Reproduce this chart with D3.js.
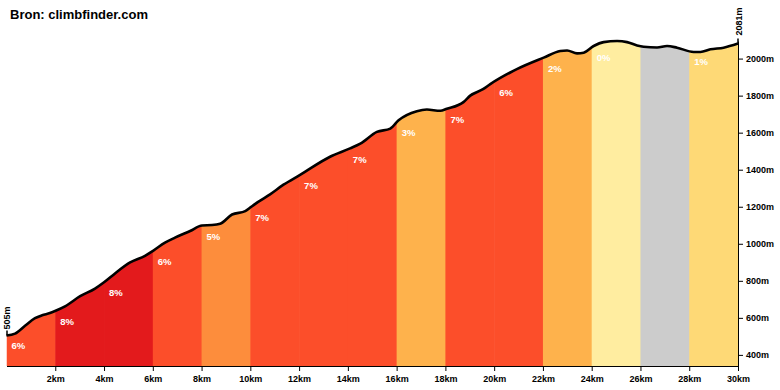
<!DOCTYPE html>
<html>
<head>
<meta charset="utf-8">
<script src="https://cdn.jsdelivr.net/npm/d3@7"></script>
<style>
  body { margin: 0; background: #fff; }
  svg { display: block; font-family: "Liberation Sans", Arial, sans-serif; font-weight: bold; }
  .axis text { font-size: 9px; font-weight: bold; fill: #000; }
  .axis path, .axis line { stroke: #000; stroke-width: 1; }
  .grade { fill: #fff; font-size: 9.5px; }
  .title { font-size: 13px; }
  .endpt { font-size: 9px; }
</style>
</head>
<body>
<script>
// profile
var distKm = [0, 0.35, 0.76, 1.17, 1.46, 1.78, 1.99, 2.4, 3.02, 3.63, 4.0, 4.45, 5.07, 5.68, 6.01,
              6.5, 6.91, 7.53, 8.02, 8.43, 8.76, 9.25, 9.79, 10.03, 10.32, 10.81, 11.36, 12.04,
              13.27, 14.09, 14.51, 15.19, 15.74, 16.08, 16.83, 17.24, 17.79, 18.06, 18.74, 19.02,
              19.56, 19.84, 20.66, 20.93, 22.03, 22.71, 22.99, 23.4, 23.67, 24.08, 24.49, 25.04,
              25.45, 25.86, 26.13, 26.68, 27.09, 27.5, 28.18, 28.46, 28.87, 29.41, 30]
var elevM = [505, 515, 557, 598, 614, 626, 637, 662, 717, 758, 792, 840, 899, 935, 962,
             1006, 1033, 1069, 1099, 1101, 1108, 1158, 1176, 1199, 1226, 1267, 1319, 1372,
             1470, 1515, 1541, 1604, 1622, 1667, 1716, 1725, 1718, 1729, 1765, 1800,
             1836, 1862, 1925, 1943, 2005, 2041, 2044, 2028, 2032, 2068, 2089, 2095,
             2089, 2071, 2064, 2060, 2068, 2059, 2036, 2036, 2050, 2059, 2081]

// 2km segments and their gradient
var segStart = [0, 2, 4, 6, 8, 10, 12, 14, 16, 18, 20, 22, 24, 26, 28]
var segEnd   = [2, 4, 6, 8, 10, 12, 14, 16, 18, 20, 22, 24, 26, 28, 30]
var segGrade = [6, 8, 8, 6, 5, 7, 7, 7, 3, 7, 6, 2, 0, -1, 1]

var kmTicks = [2, 4, 6, 8, 10, 12, 14, 16, 18, 20, 22, 24, 26, 28, 30]
var mTicks = [400, 600, 800, 1000, 1200, 1400, 1600, 1800, 2000]

var profile = distKm.map(function(d, i){ return {km: d, m: elevM[i]} })

var W = 780, H = 390
var margin = {left: 6.5, right: 42, top: 41, bottom: 24}
var baseY = H - margin.bottom   // 366

var x = d3.scaleLinear().domain([0, 30]).range([margin.left, W - margin.right])
var y = d3.scaleLinear().domain([340, d3.max(elevM)]).range([baseY, margin.top])

var color = d3.scaleThreshold()
    .domain([0, 1, 2, 4, 6, 8])
    .range(["#cccccc", "#ffeda0", "#fed976", "#feb24c", "#fd8d3c", "#fc4e2a", "#e31a1c"])

var svg = d3.select("body").append("svg").attr("width", W).attr("height", H)

var area = d3.area()
    .x(function(d){ return x(d.km) })
    .y0(baseY)
    .y1(function(d){ return y(d.m) })
    .curve(d3.curveMonotoneX)
var line = d3.line()
    .x(function(d){ return x(d.km) })
    .y(function(d){ return y(d.m) })
    .curve(d3.curveMonotoneX)

svg.append("clipPath").attr("id", "profile-clip")
    .append("path").attr("d", area(profile))

//SEGMENTS (slight overlap so no seams show)
svg.append("g").attr("clip-path", "url(#profile-clip)")
    .selectAll("rect")
    .data(segStart)
    .enter().append("rect")
    .attr("x", function(d){ return x(d) })
    .attr("width", function(d, i){ return x(segEnd[i]) - x(d) + (i < segStart.length - 1 ? 0.6 : 0) })
    .attr("y", margin.top - 10)
    .attr("height", baseY - margin.top + 10)
    .attr("fill", function(d, i){ return color(segGrade[i]) })

//PROFILE LINE
svg.append("path")
    .attr("d", line(profile))
    .attr("fill", "none")
    .attr("stroke", "#000")
    .attr("stroke-width", 2.6)
    .attr("stroke-linejoin", "round")

//GRADE LABELS
var bis = d3.bisector(function(d){ return d.km }).left
function elevAt(km) {
    var i = bis(profile, km)
    if (i <= 0) return profile[0].m
    if (i >= profile.length) return profile[profile.length - 1].m
    var a = profile[i - 1], b = profile[i]
    return a.m + (b.m - a.m) * (km - a.km) / (b.km - a.km)
}
svg.append("g").selectAll("text")
    .data(segStart)
    .enter().append("text")
    .attr("class", "grade")
    .attr("x", function(d){ return x(d) + 5 })
    .attr("y", function(d){ return y(elevAt(d)) + 14 })
    .text(function(d, i){ return segGrade[i] >= 0 ? segGrade[i] + "%" : "" })

//AXES
svg.append("g").attr("class", "axis")
    .attr("transform", "translate(0," + baseY + ")")
    .call(d3.axisBottom(x).tickValues(kmTicks).tickSize(5).tickSizeOuter(0).tickPadding(5)
        .tickFormat(function(d){ return d + "km" }))

var yAx = svg.append("g").attr("class", "axis")
    .attr("transform", "translate(" + x(30) + ",0)")
    .call(d3.axisRight(y).tickValues(mTicks).tickSize(5).tickSizeOuter(0).tickPadding(3)
        .tickFormat(function(d){ return d + "m" }))
yAx.selectAll("text").attr("text-anchor", "start")

//START / END HEIGHT
var first = profile[0], last = profile[profile.length - 1]
svg.append("line")
    .attr("x1", x(first.km) + 0.5).attr("x2", x(first.km) + 0.5)
    .attr("y1", y(first.m)).attr("y2", y(first.m) - 5)
    .attr("stroke", "#000").attr("stroke-width", 1.5)
svg.append("text").attr("class", "endpt")
    .attr("transform", "translate(" + (x(first.km) + 3.5) + "," + (y(first.m) - 6) + ") rotate(-90)")
    .text(first.m + "m")
svg.append("line")
    .attr("x1", x(last.km)).attr("x2", x(last.km))
    .attr("y1", y(last.m)).attr("y2", y(last.m) - 5)
    .attr("stroke", "#000").attr("stroke-width", 1.5)
svg.append("text").attr("class", "endpt")
    .attr("transform", "translate(" + (x(last.km) + 3.5) + "," + (y(last.m) - 8) + ") rotate(-90)")
    .text(last.m + "m")

//TITLE
svg.append("text").attr("class", "title")
    .attr("x", 10).attr("y", 19)
    .text("Bron: climbfinder.com")
</script>
</body>
</html>
